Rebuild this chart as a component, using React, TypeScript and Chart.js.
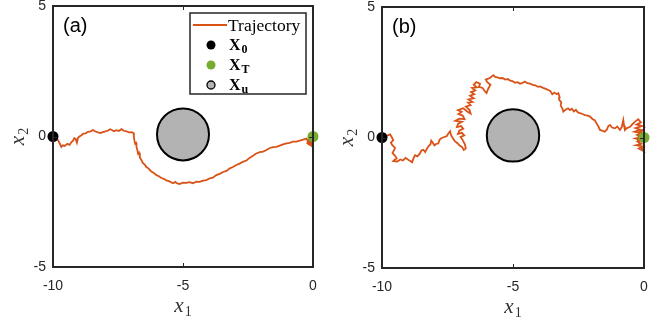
import React, { useEffect, useRef } from "react";
import { Chart, registerables } from "chart.js";

Chart.register(...registerables);

const xTickValues = [-10, -5, 0];
const yTickValues = [-5, 0, 5];
const xRange = [-10, 0];
const yRange = [-5, 5];

const startPoint = { x: -10, y: 0 };
const targetPoint = { x: 0, y: 0 };
const obstacleCenter = { x: -5, y: 0.08 };
const obstacleRadius = 1;

// Panel (a) trajectory, [x1, x2] pairs
const trajA: [number, number][] = [
  [-10, 0], [-9.9, -0.05], [-9.81, -0.14], [-9.75, -0.25], [-9.68, -0.4], [-9.62, -0.34],
  [-9.55, -0.36], [-9.45, -0.28], [-9.36, -0.32], [-9.3, -0.22], [-9.23, -0.16], [-9.18, -0.06],
  [-9.13, -0.1], [-9.08, -0.24], [-9.04, -0.05], [-8.97, 0.01], [-8.9, 0.05], [-8.85, 0.1],
  [-8.75, 0.12], [-8.65, 0.18], [-8.55, 0.2], [-8.46, 0.25], [-8.37, 0.19], [-8.27, 0.16],
  [-8.18, 0.13], [-8.08, 0.17], [-7.98, 0.2], [-7.88, 0.23], [-7.8, 0.28], [-7.72, 0.24],
  [-7.65, 0.2], [-7.56, 0.24], [-7.47, 0.21], [-7.37, 0.28], [-7.28, 0.22], [-7.18, 0.2],
  [-7.08, 0.16], [-6.98, 0.17], [-6.9, 0.13], [-6.89, 0.0], [-6.87, -0.15], [-6.84, -0.28],
  [-6.8, -0.25], [-6.79, -0.4], [-6.76, -0.5], [-6.73, -0.66], [-6.69, -0.62], [-6.66, -0.8],
  [-6.6, -0.9], [-6.54, -1.02], [-6.47, -1.08], [-6.41, -1.17], [-6.33, -1.22], [-6.22, -1.34],
  [-6.12, -1.4], [-6.02, -1.48], [-5.93, -1.52], [-5.83, -1.59], [-5.74, -1.62], [-5.64, -1.68],
  [-5.52, -1.72], [-5.38, -1.79], [-5.3, -1.74], [-5.22, -1.8], [-5.13, -1.82], [-5.0, -1.77],
  [-4.87, -1.78], [-4.75, -1.75], [-4.62, -1.79], [-4.49, -1.73], [-4.36, -1.74], [-4.23, -1.69],
  [-4.1, -1.67], [-3.97, -1.6], [-3.85, -1.58], [-3.72, -1.48], [-3.59, -1.43], [-3.46, -1.36],
  [-3.33, -1.32], [-3.2, -1.22], [-3.08, -1.17], [-2.95, -1.09], [-2.82, -1.04], [-2.7, -0.97],
  [-2.56, -0.92], [-2.44, -0.82], [-2.31, -0.74], [-2.2, -0.66], [-2.05, -0.6], [-1.92, -0.58],
  [-1.79, -0.52], [-1.66, -0.44], [-1.54, -0.41], [-1.4, -0.4], [-1.28, -0.35], [-1.15, -0.3],
  [-1.02, -0.26], [-0.9, -0.24], [-0.77, -0.2], [-0.64, -0.2], [-0.51, -0.16], [-0.38, -0.12],
  [-0.25, -0.08], [-0.19, -0.2], [-0.1, -0.02], [-0.06, 0.1], [-0.15, -0.1], [-0.22, -0.26],
  [-0.12, -0.33], [-0.04, -0.22], [-0.18, -0.18], [-0.02, -0.4], [-0.08, -0.15], [0, 0],
];

// Panel (b) trajectory, [x1, x2] pairs
const trajB: [number, number][] = [
  [-10, 0], [-9.85, 0.05], [-9.69, 0.12], [-9.62, 0.0], [-9.57, -0.1], [-9.66, -0.2],
  [-9.6, -0.3], [-9.5, -0.4], [-9.55, -0.5], [-9.6, -0.6], [-9.5, -0.7], [-9.44, -0.8],
  [-9.52, -0.85], [-9.57, -0.9], [-9.42, -0.92], [-9.3, -0.84], [-9.2, -0.88], [-9.1, -0.78],
  [-9.0, -0.85], [-8.92, -0.9], [-8.85, -0.95], [-8.8, -0.8], [-8.74, -0.68], [-8.65, -0.72],
  [-8.55, -0.61], [-8.5, -0.5], [-8.42, -0.47], [-8.35, -0.56], [-8.28, -0.42], [-8.22, -0.33],
  [-8.15, -0.26], [-8.12, -0.12], [-8.06, -0.2], [-8.0, -0.3], [-7.92, -0.24], [-7.85, -0.22],
  [-7.8, -0.08], [-7.72, -0.02], [-7.62, 0.02], [-7.53, 0.05], [-7.46, 0.16], [-7.4, 0.24],
  [-7.36, 0.08], [-7.3, -0.02], [-7.22, -0.14], [-7.12, -0.22], [-7.05, -0.3], [-6.95, -0.36],
  [-6.88, -0.48], [-6.8, -0.42], [-6.84, -0.25], [-6.92, -0.1], [-7.0, 0.02], [-6.86, 0.08],
  [-6.95, 0.18], [-7.1, 0.14], [-7.05, 0.26], [-6.9, 0.34], [-6.98, 0.44], [-7.14, 0.4],
  [-7.1, 0.52], [-6.95, 0.6], [-7.2, 0.64], [-7.05, 0.72], [-6.85, 0.7], [-6.92, 0.84],
  [-7.08, 0.9], [-6.96, 0.98], [-7.1, 1.05], [-6.9, 1.12], [-6.75, 1.0], [-6.62, 0.92],
  [-6.66, 1.06], [-6.8, 1.18], [-6.62, 1.24], [-6.72, 1.34], [-6.55, 1.36], [-6.7, 1.46],
  [-6.5, 1.5], [-6.64, 1.6], [-6.48, 1.66], [-6.6, 1.74], [-6.44, 1.8], [-6.56, 1.9],
  [-6.38, 1.92], [-6.5, 2.02], [-6.4, 2.12], [-6.26, 2.06], [-6.3, 1.94], [-6.16, 1.9],
  [-6.08, 1.78], [-6.01, 1.7], [-5.95, 1.86], [-5.86, 2.02], [-5.98, 2.12], [-6.04, 2.22],
  [-5.88, 2.28], [-5.75, 2.39], [-5.68, 2.32], [-5.6, 2.3], [-5.5, 2.27], [-5.4, 2.28],
  [-5.3, 2.22], [-5.2, 2.24], [-5.11, 2.18], [-5.02, 2.16], [-4.92, 2.1], [-4.82, 2.12],
  [-4.73, 2.06], [-4.62, 2.1], [-4.55, 2.14], [-4.45, 2.08], [-4.35, 2.06], [-4.25, 2.02],
  [-4.15, 2.0], [-4.05, 1.94], [-3.97, 1.96], [-3.85, 1.9], [-3.75, 1.86], [-3.66, 1.82],
  [-3.58, 1.78], [-3.5, 1.66], [-3.42, 1.72], [-3.33, 1.66], [-3.27, 1.7], [-3.22, 1.56],
  [-3.24, 1.44], [-3.16, 1.36], [-3.18, 1.22], [-3.12, 1.12], [-3.08, 0.99], [-3.0, 1.06],
  [-2.9, 1.12], [-2.82, 1.05], [-2.75, 1.1], [-2.68, 1.0], [-2.6, 1.06], [-2.52, 0.96],
  [-2.44, 0.93], [-2.35, 0.9], [-2.25, 0.86], [-2.15, 0.84], [-2.06, 0.8], [-1.96, 0.7],
  [-1.88, 0.66], [-1.81, 0.54], [-1.74, 0.42], [-1.68, 0.29], [-1.6, 0.26], [-1.5, 0.22],
  [-1.42, 0.3], [-1.36, 0.44], [-1.3, 0.48], [-1.22, 0.38], [-1.11, 0.35], [-1.02, 0.42],
  [-0.92, 0.29], [-0.85, 0.4], [-0.79, 0.67], [-0.76, 0.45], [-0.73, 0.29], [-0.65, 0.36],
  [-0.53, 0.41], [-0.45, 0.5], [-0.34, 0.61], [-0.22, 0.7], [-0.12, 0.58], [-0.28, 0.5],
  [-0.08, 0.44], [-0.32, 0.36], [-0.14, 0.3], [-0.36, 0.22], [-0.06, 0.16], [-0.26, 0.1],
  [-0.1, 0.02], [-0.32, -0.04], [-0.06, -0.1], [-0.24, -0.16], [-0.1, -0.24], [-0.3, -0.3],
  [-0.04, -0.34], [-0.2, -0.42], [-0.02, -0.52], [-0.14, -0.3], [-0.26, -0.06], [-0.16, 0.12],
  [-0.04, 0.3], [-0.2, 0.2], [-0.1, -0.08], [0, 0],
];

const TRAJ_COLOR = "#D95319";
const TARGET_COLOR = "#77AC30";
const AXIS_COLOR = "#262626";
const OBSTACLE_FILL = "#B3B3B3";

function drawSubText(
  ctx: CanvasRenderingContext2D,
  main: string,
  sub: string,
  x: number,
  y: number,
  mainFont: string,
  subFont: string,
  subDy: number,
  align: "left" | "center"
) {
  ctx.font = mainFont;
  const mw = ctx.measureText(main).width;
  ctx.font = subFont;
  const sw = ctx.measureText(sub).width;
  const total = mw + 1 + sw;
  const x0 = align === "center" ? x - total / 2 : x;
  ctx.textAlign = "left";
  ctx.textBaseline = "alphabetic";
  ctx.font = mainFont;
  ctx.fillText(main, x0, y);
  ctx.font = subFont;
  ctx.fillText(sub, x0 + mw + 1, y + subDy);
}

type PanelProps = {
  label: string;
  traj: [number, number][];
  legend: boolean;
  left: number;
  padTop: number;
  padRight: number;
  xAxisHeight: number;
};

function Panel({ label, traj, legend, left, padTop, padRight, xAxisHeight }: PanelProps) {
  const ref = useRef<HTMLCanvasElement | null>(null);

  useEffect(() => {
    if (!ref.current) return;
    const trajData = traj.map(([x, y]) => ({ x, y }));

    const obstaclePlugin = {
      id: "obstacle",
      beforeDatasetsDraw(chart: any) {
        const { ctx, scales } = chart;
        const cx = scales.x.getPixelForValue(obstacleCenter.x);
        const cy = scales.y.getPixelForValue(obstacleCenter.y);
        const r = Math.abs(scales.x.getPixelForValue(obstacleCenter.x + obstacleRadius) - cx);
        ctx.save();
        ctx.beginPath();
        ctx.arc(cx, cy, r, 0, Math.PI * 2);
        ctx.fillStyle = OBSTACLE_FILL;
        ctx.fill();
        ctx.lineWidth = 2;
        ctx.strokeStyle = "#000";
        ctx.stroke();
        ctx.restore();
      },
    };

    const decorPlugin = {
      id: "decor",
      afterDraw(chart: any) {
        const { ctx, chartArea, scales } = chart;
        const { left: l, right: r, top: t, bottom: b } = chartArea;
        ctx.save();
        ctx.strokeStyle = AXIS_COLOR;
        ctx.lineWidth = 2;
        ctx.strokeRect(l, t, r - l, b - t);
        ctx.lineWidth = 1;
        ctx.beginPath();
        xTickValues.forEach((v) => {
          const px = Math.round(scales.x.getPixelForValue(v)) + 0.5;
          ctx.moveTo(px, b);
          ctx.lineTo(px, b - 4);
          ctx.moveTo(px, t);
          ctx.lineTo(px, t + 4);
        });
        yTickValues.forEach((v) => {
          const py = Math.round(scales.y.getPixelForValue(v)) + 0.5;
          ctx.moveTo(l, py);
          ctx.lineTo(l + 4, py);
          ctx.moveTo(r, py);
          ctx.lineTo(r - 4, py);
        });
        ctx.stroke();

        ctx.fillStyle = "#333";
        drawSubText(
          ctx, "x", "1", (l + r) / 2, b + 45,
          'italic 21px "Liberation Serif"', '14px "Liberation Serif"', 4, "center"
        );
        ctx.save();
        ctx.translate(l - 29, (t + b) / 2);
        ctx.rotate(-Math.PI / 2);
        drawSubText(
          ctx, "x", "2", 0, 0,
          'italic 21px "Liberation Serif"', '14px "Liberation Serif"', 4, "center"
        );
        ctx.restore();

        ctx.fillStyle = "#000";
        ctx.font = '20px "Liberation Sans"';
        ctx.textAlign = "left";
        ctx.textBaseline = "middle";
        ctx.fillText(label, l + 10, t + 20);

        if (legend) {
          const bw = 116;
          const bh = 81;
          const bx = r - 7 - bw;
          const by = t + 7;
          ctx.fillStyle = "#fff";
          ctx.fillRect(bx, by, bw, bh);
          ctx.strokeStyle = AXIS_COLOR;
          ctx.lineWidth = 1.5;
          ctx.strokeRect(bx, by, bw, bh);
          const rowY = [by + 12, by + 32, by + 52, by + 72];
          const mx = bx + 21;
          const tx = bx + 39;
          ctx.strokeStyle = TRAJ_COLOR;
          ctx.lineWidth = 1.8;
          ctx.beginPath();
          ctx.moveTo(bx + 3, rowY[0]);
          ctx.lineTo(bx + 37, rowY[0]);
          ctx.stroke();
          ctx.fillStyle = "#000";
          ctx.font = '17.5px "Liberation Serif"';
          ctx.textAlign = "left";
          ctx.textBaseline = "middle";
          ctx.fillText("Trajectory", tx - 1, rowY[0] + 1);
          ctx.beginPath();
          ctx.arc(mx, rowY[1], 4.5, 0, Math.PI * 2);
          ctx.fillStyle = "#000";
          ctx.fill();
          ctx.beginPath();
          ctx.arc(mx, rowY[2], 4.5, 0, Math.PI * 2);
          ctx.fillStyle = TARGET_COLOR;
          ctx.fill();
          ctx.beginPath();
          ctx.arc(mx, rowY[3], 4, 0, Math.PI * 2);
          ctx.fillStyle = OBSTACLE_FILL;
          ctx.fill();
          ctx.lineWidth = 1.3;
          ctx.strokeStyle = "#000";
          ctx.stroke();
          ctx.fillStyle = "#000";
          const subs = ["0", "T", "u"];
          subs.forEach((s, i) => {
            drawSubText(
              ctx, "X", s, tx, rowY[i + 1] + 5,
              'bold 16px "Liberation Serif"', 'bold 12px "Liberation Serif"', 3, "left"
            );
          });
        }
        ctx.restore();
      },
    };

    const tickFont = { family: '"Liberation Sans", Arial, sans-serif', size: 14 };

    const chart = new Chart(ref.current, {
      type: "scatter",
      data: {
        datasets: [
          {
            label: "Trajectory",
            data: trajData,
            showLine: true,
            borderColor: TRAJ_COLOR,
            backgroundColor: TRAJ_COLOR,
            borderWidth: 1.8,
            pointRadius: 0,
            tension: 0,
            order: 3,
            clip: false,
          } as any,
          {
            label: "X0",
            data: [startPoint],
            pointRadius: 5.5,
            backgroundColor: "#000",
            borderWidth: 0,
            order: 1,
            clip: false,
          } as any,
          {
            label: "XT",
            data: [targetPoint],
            pointRadius: 5.5,
            backgroundColor: TARGET_COLOR,
            borderWidth: 0,
            order: 1,
            clip: false,
          } as any,
        ],
      },
      options: {
        animation: false,
        responsive: false,
        devicePixelRatio: 1,
        events: [],
        layout: { padding: { top: padTop, right: padRight, left: 0, bottom: 0 } },
        plugins: { legend: { display: false }, tooltip: { enabled: false } },
        scales: {
          x: {
            type: "linear",
            min: xRange[0],
            max: xRange[1],
            afterBuildTicks: (s: any) => {
              s.ticks = xTickValues.map((v) => ({ value: v }));
            },
            afterFit: (s: any) => {
              s.height = xAxisHeight;
              s.paddingLeft = 0;
              s.paddingRight = 0;
            },
            ticks: {
              font: tickFont,
              color: AXIS_COLOR,
              padding: 11,
              maxRotation: 0,
              autoSkip: false,
              callback: (v: any) => String(v),
            },
            grid: { display: false, drawTicks: false },
            border: { display: false },
          },
          y: {
            type: "linear",
            min: yRange[0],
            max: yRange[1],
            afterBuildTicks: (s: any) => {
              s.ticks = yTickValues.map((v) => ({ value: v }));
            },
            afterFit: (s: any) => {
              s.width = 53;
              s.paddingTop = 0;
              s.paddingBottom = 0;
            },
            ticks: {
              font: tickFont,
              color: AXIS_COLOR,
              padding: 7,
              autoSkip: false,
              callback: (v: any) => String(v),
            },
            grid: { display: false, drawTicks: false },
            border: { display: false },
          },
        },
      } as any,
      plugins: [obstaclePlugin, decorPlugin],
    });
    return () => chart.destroy();
  }, []);

  return (
    <canvas
      ref={ref}
      width={330}
      height={321}
      style={{ position: "absolute", left, top: 0, width: 330, height: 321 }}
    />
  );
}

export default function App() {
  return (
    <div
      style={{
        position: "fixed",
        left: 0,
        top: 0,
        width: 659,
        height: 321,
        background: "#fff",
        overflow: "hidden",
      }}
    >
      <Panel label="(a)" traj={trajA} legend={true} left={0} padTop={6} padRight={17} xAxisHeight={54} />
      <Panel label="(b)" traj={trajB} legend={false} left={329} padTop={7} padRight={15} xAxisHeight={53} />
    </div>
  );
}
